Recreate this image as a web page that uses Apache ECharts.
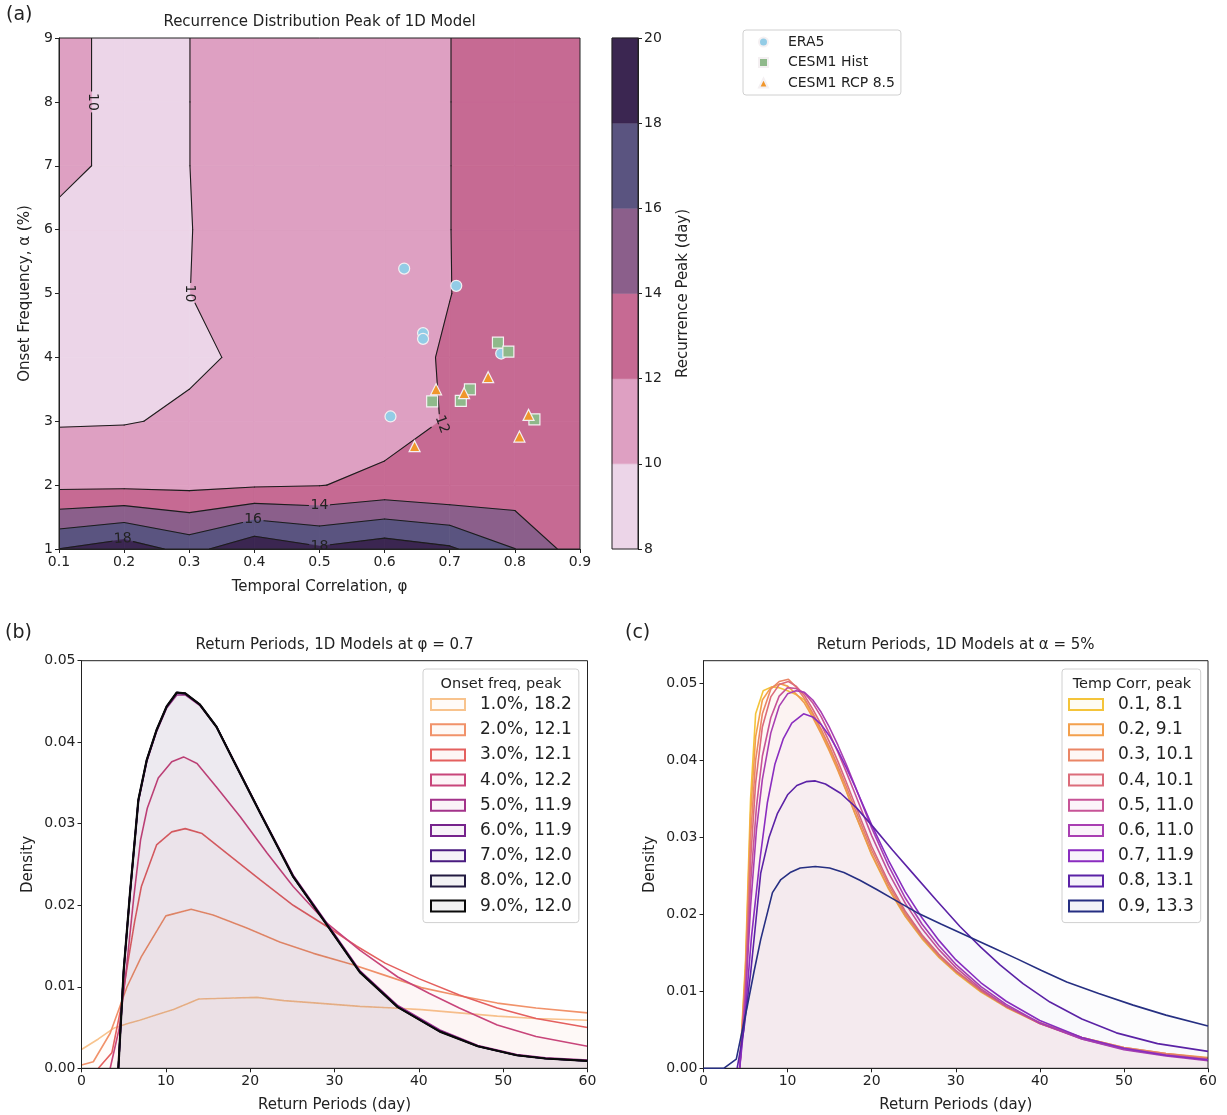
<!DOCTYPE html>
<html><head><meta charset="utf-8">
<script src="https://cdn.jsdelivr.net/npm/echarts@6/dist/echarts.min.js"></script>
<style>html,body{margin:0;padding:0;background:#fff}#c{width:1227px;height:1115px}</style>
</head><body><div id="c"></div>
<script>
const FONT = 'DejaVu Sans';
// ---------------- Panel (a): recurrence peak grid ----------------
const phiGrid = [0.1, 0.2, 0.3, 0.4, 0.5, 0.6, 0.7, 0.8, 0.9];
const alphaGrid = [1, 2, 3, 4, 5, 6, 7, 8, 9];
const peakAlpha1 = [18.02, 19.13, 17.30, 19.56, 18.29, 19.13, 18.30, 16.02, 12.92];
const peakAlpha2 = [11.55, 11.58, 11.50, 11.77, 11.94, 12.47, 12.10, 12.67, 12.90];
const peakAlpha3 = [9.84, 9.90, 10.23, 10.80, 11.00, 11.23, 12.14, 12.60, 12.80];
const peakAlpha4 = [9.00, 9.20, 9.77, 10.23, 10.80, 11.50, 12.14, 12.60, 12.80];
const peakAlpha5 = [9.00, 9.20, 9.99, 10.60, 11.00, 11.50, 11.98, 12.60, 12.80];
const peakAlpha6 = [9.50, 9.10, 9.95, 10.90, 11.10, 11.50, 11.99, 12.50, 12.80];
const peakAlpha7 = [10.50, 9.50, 9.99, 10.90, 11.10, 11.50, 11.99, 12.50, 12.80];
const peakAlpha8 = [10.50, 9.50, 9.99, 10.90, 11.10, 11.50, 11.99, 12.50, 12.80];
const peakAlpha9 = [10.50, 9.50, 9.99, 10.90, 11.10, 11.50, 11.99, 12.50, 12.80];
const peakRows = [peakAlpha1, peakAlpha2, peakAlpha3, peakAlpha4, peakAlpha5, peakAlpha6, peakAlpha7, peakAlpha8, peakAlpha9];
const contourLevels = [8, 10, 12, 14, 16, 18, 20];
const lineLevels = [10, 12, 14, 16, 18];
const bandColors = ['#ecd5e8', '#dea0c2', '#c66a93', '#8b5f8b', '#5a5480', '#3b2651'];
// contour label anchors: [phi, alpha, level, rotationDeg]
const contourLabels = [
  [0.151, 8.0, 10, -90],
  [0.301, 5.0, 10, -90],
  [0.688, 2.95, 12, -70],
  [0.500, 1.69, 14, 0],
  [0.398, 1.47, 16, 0],
  [0.198, 1.16, 18, 3],
  [0.500, 1.04, 18, 0]
];
const era5 = [[0.630, 5.39], [0.710, 5.12], [0.659, 4.38], [0.659, 4.29], [0.779, 4.06], [0.609, 3.075]];
const cesmHist = [[0.774, 4.23], [0.790, 4.09], [0.731, 3.50], [0.717, 3.32], [0.673, 3.31], [0.830, 3.03]];
const cesmRcp = [[0.759, 3.69], [0.679, 3.50], [0.722, 3.44], [0.821, 3.10], [0.807, 2.76], [0.646, 2.61]];

// ---------------- Panel (b): onset frequency curves ----------------
const onsetNames = ['1.0%, 18.2', '2.0%, 12.1', '3.0%, 12.1', '4.0%, 12.2', '5.0%, 11.9', '6.0%, 11.9', '7.0%, 12.0', '8.0%, 12.0', '9.0%, 12.0'];
const onsetColors = ['#f8c38d', '#f1926a', '#e4605f', '#c8457a', '#a3338a', '#76238c', '#4a1c80', '#221a40', '#0a0a0a'];
const onset1 = [[0,0.0023],[2.0,0.0036],[3.8,0.0049],[5.5,0.0055],[6.9,0.0059],[9.0,0.0066],[10.9,0.0072],[13.9,0.0085],[17.0,0.0086],[20.8,0.0087],[24.0,0.0083],[28.0,0.0080],[33.0,0.0076],[37.0,0.0074],[40.3,0.0072],[44.8,0.0068],[49.3,0.0064],[53.9,0.0061],[60,0.0059]];
const onset2 = [[0,0.0004],[1.4,0.0008],[3.4,0.0043],[5.4,0.0100],[7.1,0.0137],[10.0,0.0187],[13.0,0.0195],[15.6,0.0188],[19.6,0.0172],[23.5,0.0155],[27.5,0.0141],[32.2,0.0127],[36.0,0.0114],[40.3,0.0099],[44.8,0.0089],[49.3,0.0080],[53.9,0.0074],[60,0.0068]];
const onset3 = [[2.0,0],[3.6,0.0019],[4.6,0.0070],[5.5,0.0130],[6.3,0.0180],[7.1,0.0223],[8.9,0.0274],[10.7,0.0290],[12.3,0.0294],[14.3,0.0288],[17.2,0.0264],[21.2,0.0231],[25.1,0.0200],[29.1,0.0174],[32.6,0.0150],[36.0,0.0129],[40.0,0.0110],[44.8,0.0090],[49.3,0.0074],[53.9,0.0061],[60,0.0050]];
const onset4 = [[3.4,0],[4.5,0.0050],[5.3,0.0120],[6.2,0.0210],[7.0,0.0280],[7.8,0.0319],[9.1,0.0356],[10.7,0.0376],[12.1,0.0382],[13.7,0.0374],[16.0,0.0345],[18.8,0.0309],[22.0,0.0264],[25.1,0.0223],[29.1,0.0178],[33.0,0.0145],[37.5,0.0112],[41.2,0.0092],[44.8,0.0074],[49.3,0.0053],[53.9,0.0039],[60,0.0027]];
const onset5 = [[4.37,0],[5.0,0.0118],[5.75,0.0213],[6.74,0.0327],[7.73,0.0376],[8.9,0.0413],[10.1,0.0442],[11.3,0.0458],[12.3,0.0458],[14.05,0.0445],[16.0,0.0419],[18.0,0.0379],[21.2,0.0314],[25.1,0.0237],[29.1,0.0178],[33.0,0.0120],[37.5,0.0077],[42.5,0.0047],[47.0,0.0028],[51.6,0.0017],[55.0,0.0013],[60,0.0010]];
const onset6 = [[4.37,0],[5.0,0.0119],[5.75,0.0214],[6.74,0.0328],[7.73,0.0377],[8.9,0.0414],[10.1,0.0443],[11.3,0.0460],[12.3,0.0459],[14.05,0.0446],[16.0,0.0419],[18.0,0.0378],[21.2,0.0313],[25.1,0.0236],[29.1,0.0177],[33.0,0.0119],[37.5,0.0076],[42.5,0.0046],[47.0,0.0027],[51.6,0.0016],[55.0,0.0012],[60,0.0009]];
const onset7 = [[4.37,0],[5.0,0.0120],[5.75,0.0215],[6.74,0.0329],[7.73,0.0378],[8.9,0.0415],[10.1,0.0444],[11.3,0.0461],[12.3,0.0460],[14.05,0.0446],[16.0,0.0419],[18.0,0.0378],[21.2,0.0313],[25.1,0.0235],[29.1,0.0176],[33.0,0.0118],[37.5,0.0075],[42.5,0.0045],[47.0,0.0027],[51.6,0.0016],[55.0,0.0012],[60,0.0009]];
const onset8 = [[4.37,0],[5.0,0.0120],[5.75,0.0215],[6.74,0.0329],[7.73,0.0378],[8.9,0.0415],[10.1,0.0444],[11.3,0.0461],[12.3,0.0460],[14.05,0.0446],[16.0,0.0419],[18.0,0.0378],[21.2,0.0313],[25.1,0.0235],[29.1,0.0176],[33.0,0.0118],[37.5,0.0075],[42.5,0.0045],[47.0,0.0027],[51.6,0.0016],[55.0,0.0012],[60,0.0009]];
const onset9 = [[4.37,0],[5.0,0.0120],[5.75,0.0215],[6.74,0.0329],[7.73,0.0378],[8.9,0.0415],[10.1,0.0444],[11.3,0.0461],[12.3,0.0460],[14.05,0.0446],[16.0,0.0419],[18.0,0.0378],[21.2,0.0313],[25.1,0.0235],[29.1,0.0176],[33.0,0.0118],[37.5,0.0075],[42.5,0.0045],[47.0,0.0027],[51.6,0.0016],[55.0,0.0012],[60,0.0009]];
const onsetData = [onset1, onset2, onset3, onset4, onset5, onset6, onset7, onset8, onset9];

// ---------------- Panel (c): temporal correlation curves ----------------
const corrNames = ['0.1, 8.1', '0.2, 9.1', '0.3, 10.1', '0.4, 10.1', '0.5, 11.0', '0.6, 11.0', '0.7, 11.9', '0.8, 13.1', '0.9, 13.3'];
const corrColors = ['#f4c43a', '#f3a04c', '#ea8666', '#dc6c7a', '#c75497', '#a93fb2', '#8a2dc0', '#5b22a6', '#262f82'];
const corr1 = [[4.3,0],[5.0,0.014],[5.6,0.035],[6.2,0.046],[7.1,0.049],[8.1,0.0495],[9.0,0.0494],[10.0,0.0490],[11.0,0.0485],[12.0,0.0478],[13.0,0.0458],[14.0,0.0437],[15.0,0.0414],[16.0,0.0388],[17.0,0.0360],[18.0,0.0331],[20.0,0.0277],[22.0,0.0233],[24.0,0.0197],[26.0,0.0168],[28.0,0.0144],[30.0,0.0124],[33.0,0.0099],[36.0,0.0079],[40.0,0.0058],[45.0,0.0039],[50.0,0.0026],[55.0,0.0018],[60,0.0013]];
const corr2 = [[4.3,0],[5.0,0.013],[5.6,0.033],[6.2,0.043],[7.0,0.0478],[8.0,0.0494],[9.1,0.0499],[10.0,0.0496],[11.0,0.0486],[12.0,0.0474],[13.0,0.0455],[14.0,0.0434],[15.0,0.0411],[16.0,0.0386],[17.0,0.0359],[18.0,0.0331],[20.0,0.0278],[22.0,0.0234],[24.0,0.0198],[26.0,0.0169],[28.0,0.0145],[30.0,0.0125],[33.0,0.0100],[36.0,0.0080],[40.0,0.0059],[45.0,0.0040],[50.0,0.0027],[55.0,0.0019],[60,0.0014]];
const corr3 = [[4.3,0],[5.0,0.012],[5.6,0.030],[6.2,0.040],[7.0,0.0460],[8.0,0.0492],[9.0,0.0502],[10.1,0.0505],[11.0,0.0495],[12.0,0.0480],[13.0,0.0461],[14.0,0.0440],[15.0,0.0417],[16.0,0.0392],[17.0,0.0365],[18.0,0.0337],[20.0,0.0283],[22.0,0.0238],[24.0,0.0201],[26.0,0.0171],[28.0,0.0146],[30.0,0.0126],[33.0,0.0101],[36.0,0.0080],[40.0,0.0059],[45.0,0.0040],[50.0,0.0027],[55.0,0.0019],[60,0.0013]];
const corr4 = [[4.3,0],[5.0,0.011],[5.6,0.027],[6.2,0.037],[7.0,0.0443],[8.0,0.0482],[9.0,0.0498],[10.1,0.0502],[11.0,0.0496],[12.0,0.0484],[13.0,0.0466],[14.0,0.0446],[15.0,0.0423],[16.0,0.0398],[17.0,0.0371],[18.0,0.0343],[20.0,0.0288],[22.0,0.0242],[24.0,0.0204],[26.0,0.0173],[28.0,0.0148],[30.0,0.0127],[33.0,0.0101],[36.0,0.0080],[40.0,0.0058],[45.0,0.0039],[50.0,0.0026],[55.0,0.0018],[60,0.0012]];
const corr5 = [[4.3,0],[5.0,0.010],[5.6,0.024],[6.3,0.034],[7.0,0.0405],[8.0,0.0455],[9.0,0.0483],[10.0,0.0494],[11.0,0.0493],[12.0,0.0487],[13.0,0.0474],[14.0,0.0456],[15.0,0.0434],[16.0,0.0410],[17.0,0.0384],[18.0,0.0357],[20.0,0.0302],[22.0,0.0254],[24.0,0.0214],[26.0,0.0181],[28.0,0.0154],[30.0,0.0131],[33.0,0.0103],[36.0,0.0081],[40.0,0.0058],[45.0,0.0038],[50.0,0.0025],[55.0,0.0017],[60,0.0011]];
const corr6 = [[4.3,0],[5.0,0.009],[5.6,0.021],[6.3,0.031],[7.0,0.0375],[8.0,0.0435],[9.0,0.0470],[10.0,0.0486],[11.0,0.0490],[12.0,0.0488],[13.0,0.0478],[14.0,0.0462],[15.0,0.0442],[16.0,0.0419],[17.0,0.0394],[18.0,0.0367],[20.0,0.0312],[22.0,0.0263],[24.0,0.0221],[26.0,0.0187],[28.0,0.0159],[30.0,0.0135],[33.0,0.0106],[36.0,0.0083],[40.0,0.0059],[45.0,0.0038],[50.0,0.0024],[55.0,0.0016],[60,0.0010]];
const corr7 = [[4.3,0],[5.0,0.0075],[5.7,0.017],[6.7,0.027],[7.6,0.0345],[8.5,0.0395],[9.5,0.0428],[10.5,0.0448],[11.9,0.0460],[13.0,0.0456],[14.0,0.0446],[15.0,0.0431],[16.0,0.0412],[17.0,0.0390],[18.0,0.0366],[20.0,0.0316],[22.0,0.0270],[24.0,0.0229],[26.0,0.0195],[28.0,0.0166],[30.0,0.0141],[33.0,0.0111],[36.0,0.0087],[40.0,0.0062],[45.0,0.0040],[50.0,0.0026],[55.0,0.0017],[60,0.0011]];
const corr8 = [[4.0,0],[4.8,0.005],[5.6,0.0123],[6.8,0.0253],[7.8,0.0300],[8.8,0.0331],[10.0,0.0355],[11.1,0.0367],[12.2,0.0372],[13.3,0.0373],[14.5,0.0369],[16.3,0.0357],[18.2,0.0338],[20.2,0.0313],[22.5,0.0283],[24.9,0.0253],[27.7,0.0218],[30.5,0.0184],[33.0,0.0157],[35.3,0.0134],[38.0,0.0110],[41.2,0.0086],[45.0,0.0064],[49.1,0.0046],[54.0,0.0032],[60,0.0022]];
const corr9 = [[0,0],[2.4,0],[3.9,0.0012],[5.2,0.0080],[6.0,0.0125],[6.8,0.0167],[8.2,0.0228],[9.2,0.0245],[10.3,0.0254],[11.5,0.0260],[13.3,0.0262],[15.0,0.0260],[16.7,0.0254],[18.6,0.0244],[20.6,0.0232],[23.0,0.0217],[25.4,0.0202],[28.3,0.0187],[31.3,0.0172],[34.3,0.0157],[37.3,0.0142],[40.2,0.0127],[43.2,0.0112],[47.0,0.0097],[51.1,0.0082],[55.0,0.0069],[60,0.0055]];
const corrData = [corr1, corr2, corr3, corr4, corr5, corr6, corr7, corr8, corr9];

// ---------------- contour geometry (marching squares on the grid) ----------------
function clipPoly(poly, L, keepAbove) {
  const out = [];
  for (let i = 0; i < poly.length; i++) {
    const a = poly[i], b = poly[(i + 1) % poly.length];
    const ina = keepAbove ? a[2] >= L : a[2] <= L;
    const inb = keepAbove ? b[2] >= L : b[2] <= L;
    if (ina) out.push(a);
    if (ina !== inb) {
      const t = (L - a[2]) / (b[2] - a[2]);
      out.push([a[0] + t * (b[0] - a[0]), a[1] + t * (b[1] - a[1]), L]);
    }
  }
  return out;
}
const bandPolys = [];
const contourSegs = [];
for (let j = 0; j < alphaGrid.length - 1; j++) {
  for (let i = 0; i < phiGrid.length - 1; i++) {
    const quad = [
      [phiGrid[i], alphaGrid[j], peakRows[j][i]],
      [phiGrid[i + 1], alphaGrid[j], peakRows[j][i + 1]],
      [phiGrid[i + 1], alphaGrid[j + 1], peakRows[j + 1][i + 1]],
      [phiGrid[i], alphaGrid[j + 1], peakRows[j + 1][i]]
    ];
    for (let k = 0; k < contourLevels.length - 1; k++) {
      let p = clipPoly(quad, contourLevels[k], true);
      if (p.length >= 3) p = clipPoly(p, contourLevels[k + 1], false);
      if (p.length >= 3) bandPolys.push({ k: k, pts: p });
    }
    lineLevels.forEach(L => {
      const pts = [];
      for (let e = 0; e < 4; e++) {
        const a = quad[e], b = quad[(e + 1) % 4];
        if ((a[2] >= L) !== (b[2] >= L)) {
          const t = (L - a[2]) / (b[2] - a[2]);
          pts.push([a[0] + t * (b[0] - a[0]), a[1] + t * (b[1] - a[1])]);
        }
      }
      if (pts.length === 2) contourSegs.push([pts[0][0], pts[0][1], pts[1][0], pts[1][1], L]);
      if (pts.length === 4) {
        contourSegs.push([pts[0][0], pts[0][1], pts[1][0], pts[1][1], L]);
        contourSegs.push([pts[2][0], pts[2][1], pts[3][0], pts[3][1], L]);
      }
    });
  }
}

function hexA(hex, a) {
  const n = parseInt(hex.slice(1), 16);
  return 'rgba(' + ((n >> 16) & 255) + ',' + ((n >> 8) & 255) + ',' + (n & 255) + ',' + a + ')';
}

const AX = '#222';
function axisBase(extra) {
  return Object.assign({
    type: 'value',
    axisLine: { show: true, onZero: false, lineStyle: { color: AX, width: 1 } },
    axisTick: { show: true, inside: false, length: 4, lineStyle: { color: AX } },
    axisLabel: { color: AX, fontSize: 14, fontFamily: FONT, margin: 6 },
    splitLine: { show: false },
    nameTextStyle: { color: AX, fontSize: 15, fontFamily: FONT },
    nameLocation: 'middle',
    z: 10
  }, extra);
}

const chart = echarts.init(document.getElementById('c'), null, { renderer: 'canvas' });

const series = [];
// filled contour bands
series.push({
  type: 'custom', xAxisIndex: 0, yAxisIndex: 0, clip: true, silent: true, z: 1,
  data: bandPolys.map(p => [p.pts[0][0], p.pts[0][1]]),
  renderItem: function (params, api) {
    const p = bandPolys[params.dataIndex];
    const pts = p.pts.map(q => api.coord([q[0], q[1]]));
    return { type: 'polygon', shape: { points: pts }, style: { fill: bandColors[p.k], stroke: bandColors[p.k], lineWidth: 0.8 } };
  }
});
// contour lines with gaps for labels
series.push({
  type: 'custom', xAxisIndex: 0, yAxisIndex: 0, clip: true, silent: true, z: 3,
  data: contourSegs.map(s => [s[0], s[1], s[2], s[3], s[4]]),
  renderItem: function (params, api) {
    const s = contourSegs[params.dataIndex];
    const a = api.coord([s[0], s[1]]), b = api.coord([s[2], s[3]]);
    const dx = b[0] - a[0], dy = b[1] - a[1];
    let pieces = [[0, 1]];
    contourLabels.forEach(lb => {
      if (lb[2] !== s[4]) return;
      const c = api.coord([lb[0], lb[1]]);
      const r = 11;
      const fx = a[0] - c[0], fy = a[1] - c[1];
      const A = dx * dx + dy * dy, B = 2 * (fx * dx + fy * dy), C = fx * fx + fy * fy - r * r;
      const disc = B * B - 4 * A * C;
      if (A === 0 || disc <= 0) return;
      const t1 = (-B - Math.sqrt(disc)) / (2 * A), t2 = (-B + Math.sqrt(disc)) / (2 * A);
      const np = [];
      pieces.forEach(([u, v]) => {
        if (t2 <= u || t1 >= v) { np.push([u, v]); return; }
        if (t1 > u) np.push([u, t1]);
        if (t2 < v) np.push([t2, v]);
      });
      pieces = np;
    });
    return {
      type: 'group',
      children: pieces.map(([u, v]) => ({
        type: 'line',
        shape: { x1: a[0] + u * dx, y1: a[1] + u * dy, x2: a[0] + v * dx, y2: a[1] + v * dy },
        style: { stroke: '#1c1c1c', lineWidth: 1.1, lineCap: 'round' }
      }))
    };
  }
});
// contour labels
series.push({
  type: 'custom', xAxisIndex: 0, yAxisIndex: 0, clip: true, silent: true, z: 4,
  data: contourLabels.map(l => [l[0], l[1]]),
  renderItem: function (params, api) {
    const l = contourLabels[params.dataIndex];
    const c = api.coord([l[0], l[1]]);
    return {
      type: 'text', x: c[0], y: c[1], rotation: l[3] * Math.PI / 180,
      style: { text: String(l[2]), fill: '#222', font: '14px "DejaVu Sans"', textAlign: 'center', textVerticalAlign: 'middle' }
    };
  }
});
// scatter points
const scatterDefs = [
  ['ERA5', era5, 'circle', '#93cce6', 11],
  ['CESM1 Hist', cesmHist, 'rect', '#8fb98b', 11],
  ['CESM1 RCP 8.5', cesmRcp, 'triangle', '#f0962b', 11]
];
scatterDefs.forEach(d => {
  series.push({
    type: 'scatter', name: d[0], xAxisIndex: 0, yAxisIndex: 0, data: d[1], symbol: d[2], symbolSize: d[4], z: 6,
    itemStyle: { color: d[3], borderColor: '#f4f0f2', borderWidth: 1.2, opacity: 1 }
  });
});
// colorbar
series.push({
  type: 'custom', xAxisIndex: 1, yAxisIndex: 1, silent: true, z: 1,
  data: bandColors.map((c, k) => [0, contourLevels[k], contourLevels[k + 1]]),
  encode: { x: 0, y: [1, 2] },
  renderItem: function (params, api) {
    const p1 = api.coord([0, api.value(1)]), p2 = api.coord([1, api.value(2)]);
    const col = bandColors[params.dataIndex];
    return { type: 'rect', shape: { x: p1[0], y: p2[1], width: p2[0] - p1[0], height: p1[1] - p2[1] }, style: { fill: col, stroke: col, lineWidth: 0.5 } };
  }
});
// panel b
onsetData.forEach((d, i) => {
  series.push({
    type: 'line', name: onsetNames[i], xAxisIndex: 2, yAxisIndex: 2, data: d, symbol: 'none', showSymbol: false, z: 2 + i, clip: true,
    lineStyle: { color: onsetColors[i], width: i === 8 ? 2.2 : 1.6 },
    itemStyle: { color: onsetColors[i] },
    areaStyle: { color: onsetColors[i], opacity: 0.02 }
  });
});
// panel c
corrData.forEach((d, i) => {
  series.push({
    type: 'line', name: corrNames[i], xAxisIndex: 3, yAxisIndex: 3, data: d, symbol: 'none', showSymbol: false, z: 2 + i, clip: true,
    lineStyle: { color: corrColors[i], width: 1.6 },
    itemStyle: { color: corrColors[i] },
    areaStyle: { color: corrColors[i], opacity: 0.017 }
  });
});

const gridBorder = { show: true, borderColor: AX, borderWidth: 1, backgroundColor: 'transparent', z: 8 };
const legendEntryFont = { fontSize: 17, fontFamily: FONT, color: '#222', padding: [0, 0, 0, 10] };

const option = {
  animation: false,
  textStyle: { fontFamily: FONT },
  grid: [
    Object.assign({ left: 59, top: 38, width: 521, height: 511 }, gridBorder),
    Object.assign({ left: 612, top: 38, width: 26, height: 511 }, gridBorder),
    Object.assign({ left: 81.5, top: 660.7, width: 506, height: 407.6 }, gridBorder),
    Object.assign({ left: 703.5, top: 660.7, width: 504.5, height: 407.6 }, gridBorder)
  ],
  xAxis: [
    axisBase({ gridIndex: 0, min: 0.1, max: 0.9, interval: 0.1, name: 'Temporal Correlation, φ', nameGap: 31,
      axisLabel: { color: AX, fontSize: 14, fontFamily: FONT, margin: 6, formatter: v => v.toFixed(1) } }),
    axisBase({ gridIndex: 1, min: 0, max: 1, show: false }),
    axisBase({ gridIndex: 2, min: 0, max: 60, interval: 10, name: 'Return Periods (day)', nameGap: 29 }),
    axisBase({ gridIndex: 3, min: 0, max: 60, interval: 10, name: 'Return Periods (day)', nameGap: 29 })
  ],
  yAxis: [
    axisBase({ gridIndex: 0, min: 1, max: 9, interval: 1, name: 'Onset Frequency, α (%)', nameGap: 26 }),
    axisBase({ gridIndex: 1, min: 8, max: 20, interval: 2, position: 'right', name: 'Recurrence Peak (day)', nameGap: 38, nameRotate: 90 }),
    axisBase({ gridIndex: 2, min: 0, max: 0.05, interval: 0.01, name: 'Density', nameGap: 46,
      axisLabel: { color: AX, fontSize: 14, fontFamily: FONT, margin: 6, formatter: v => v.toFixed(2) } }),
    axisBase({ gridIndex: 3, min: 0, max: 0.0529, interval: 0.01, name: 'Density', nameGap: 46,
      axisLabel: { color: AX, fontSize: 14, fontFamily: FONT, margin: 6, showMaxLabel: false, formatter: v => v.toFixed(2) } })
  ],
  legend: [
    {
      data: ['ERA5', 'CESM1 Hist', 'CESM1 RCP 8.5'], orient: 'vertical', left: 743, top: 30,
      itemWidth: 9, itemHeight: 9, itemGap: 6.5, selectedMode: false,
      textStyle: { fontSize: 14, fontFamily: FONT, color: '#222', padding: [0, 0, 0, 15] },
      padding: [5, 6, 5, 15], borderColor: '#d0d0d0', borderWidth: 1, borderRadius: 3, backgroundColor: '#fff'
    },
    {
      data: onsetNames.map((n, i) => ({ name: n, icon: 'rect', itemStyle: { color: hexA(onsetColors[i], 0.06), borderColor: onsetColors[i], borderWidth: 2 } })),
      orient: 'vertical', left: 423, top: 669, itemWidth: 34, itemHeight: 11, itemGap: 8.2, selectedMode: false,
      textStyle: legendEntryFont,
      padding: [27, 7, 8, 7], borderColor: '#d0d0d0', borderWidth: 1, borderRadius: 3, backgroundColor: 'rgba(255,255,255,0.85)'
    },
    {
      data: corrNames.map((n, i) => ({ name: n, icon: 'rect', itemStyle: { color: hexA(corrColors[i], 0.06), borderColor: corrColors[i], borderWidth: 2 } })),
      orient: 'vertical', left: 1062, top: 669, itemWidth: 34, itemHeight: 11, itemGap: 8.2, selectedMode: false,
      textStyle: legendEntryFont,
      padding: [27, 7, 8, 6], borderColor: '#d0d0d0', borderWidth: 1, borderRadius: 3, backgroundColor: 'rgba(255,255,255,0.85)'
    }
  ],
  graphic: [
    { type: 'text', left: 6, top: 6, style: { text: '(a)', font: '19px "DejaVu Sans"', fill: '#222' } },
    { type: 'text', left: 5, top: 624, style: { text: '(b)', font: '19px "DejaVu Sans"', fill: '#222' } },
    { type: 'text', left: 625, top: 624, style: { text: '(c)', font: '19px "DejaVu Sans"', fill: '#222' } },
    { type: 'text', x: 319.5, y: 22, style: { text: 'Recurrence Distribution Peak of 1D Model', font: '15px "DejaVu Sans"', fill: '#222', textAlign: 'center', textVerticalAlign: 'middle' } },
    { type: 'text', x: 334.5, y: 645, style: { text: 'Return Periods, 1D Models at φ = 0.7', font: '15px "DejaVu Sans"', fill: '#222', textAlign: 'center', textVerticalAlign: 'middle' } },
    { type: 'text', x: 955.7, y: 645, style: { text: 'Return Periods, 1D Models at α = 5%', font: '15px "DejaVu Sans"', fill: '#222', textAlign: 'center', textVerticalAlign: 'middle' } },
    { type: 'text', x: 501, y: 684, z: 100, style: { text: 'Onset freq, peak', font: '14.5px "DejaVu Sans"', fill: '#222', textAlign: 'center', textVerticalAlign: 'middle' } },
    { type: 'text', x: 1132, y: 684, z: 100, style: { text: 'Temp Corr, peak', font: '14.5px "DejaVu Sans"', fill: '#222', textAlign: 'center', textVerticalAlign: 'middle' } }
  ],
  series: series
};
chart.setOption(option);
</script>
</body></html>
